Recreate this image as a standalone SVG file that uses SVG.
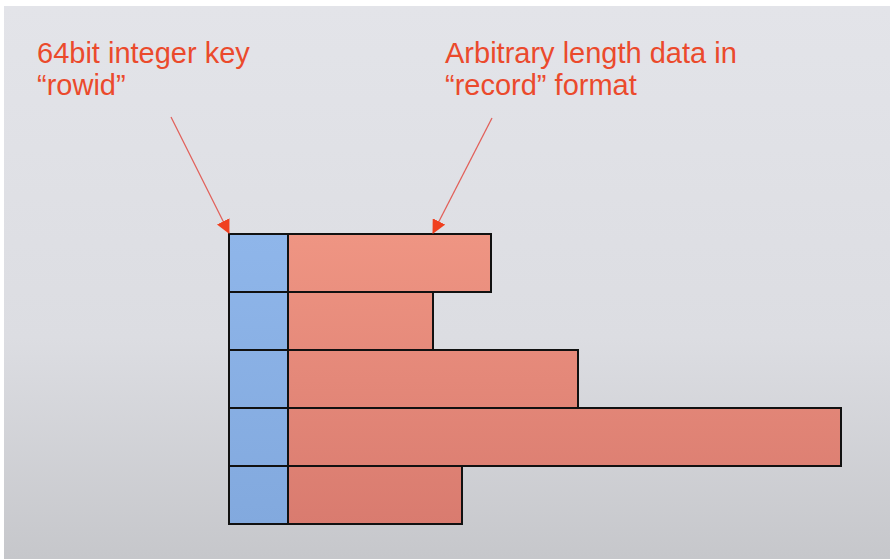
<svg xmlns="http://www.w3.org/2000/svg" width="890" height="559" viewBox="0 0 890 559">
  <defs>
    <linearGradient id="bg" x1="0" y1="0" x2="0" y2="1">
      <stop offset="0" stop-color="#e3e4e9"/>
      <stop offset="0.6" stop-color="#dcdde2"/>
      <stop offset="1" stop-color="#c6c7cb"/>
    </linearGradient>
    <linearGradient id="keyFill" gradientUnits="userSpaceOnUse" x1="0" y1="234" x2="0" y2="525">
      <stop offset="0" stop-color="#8fb6ea"/>
      <stop offset="1" stop-color="#82a9de"/>
    </linearGradient>
    <linearGradient id="dataFill" gradientUnits="userSpaceOnUse" x1="0" y1="234" x2="0" y2="525">
      <stop offset="0" stop-color="#ef9583"/>
      <stop offset="1" stop-color="#d97b6f"/>
    </linearGradient>
    <marker id="head" markerWidth="14" markerHeight="14" refX="13" refY="7" orient="auto" markerUnits="userSpaceOnUse">
      <path d="M0,0 L14,7 L0,14 Z" fill="#f0401f"/>
    </marker>
    <style>
      .label { font-family: "Liberation Sans", Arial, sans-serif; font-size: 29px; fill: #eb4a2c; }
      .key { fill: url(#keyFill); stroke: #111; stroke-width: 2; }
      .data { fill: url(#dataFill); stroke: #111; stroke-width: 2; }
      .pointer { stroke: #e2605a; stroke-width: 1.3; fill: none; marker-end: url(#head); }
    </style>
  </defs>

  <rect x="0" y="0" width="890" height="559" fill="#ffffff"/>
  <rect x="4" y="6" width="886" height="553" fill="url(#bg)"/>

  <g id="label-rowid">
    <text class="label" x="37" y="63">64bit integer key</text>
    <text class="label" x="37" y="95">“rowid”</text>
  </g>
  <g id="label-record">
    <text class="label" x="445" y="63">Arbitrary length data in</text>
    <text class="label" x="445" y="95">“record” format</text>
  </g>

  <g id="row1">
    <rect class="data" x="288" y="234" width="203" height="58"/>
    <rect class="key" x="229" y="234" width="59" height="58"/>
  </g>
  <g id="row2">
    <rect class="data" x="288" y="292" width="145" height="58"/>
    <rect class="key" x="229" y="292" width="59" height="58"/>
  </g>
  <g id="row3">
    <rect class="data" x="288" y="350" width="290" height="58"/>
    <rect class="key" x="229" y="350" width="59" height="58"/>
  </g>
  <g id="row4">
    <rect class="data" x="288" y="408" width="553" height="58"/>
    <rect class="key" x="229" y="408" width="59" height="58"/>
  </g>
  <g id="row5">
    <rect class="data" x="288" y="466" width="174" height="58"/>
    <rect class="key" x="229" y="466" width="59" height="58"/>
  </g>

  <g id="connectors">
    <line class="pointer" x1="171" y1="117" x2="229" y2="233"/>
    <line class="pointer" x1="492" y1="118" x2="433" y2="233"/>
  </g>
</svg>
